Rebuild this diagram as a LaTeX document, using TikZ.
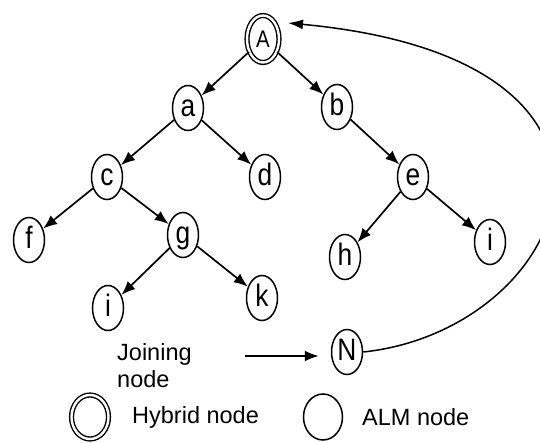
\documentclass[tikz,border=0pt]{standalone}
\usepackage{fontspec}
\setmainfont{Liberation Sans}
\usetikzlibrary{shapes.geometric,arrows.meta}
% narrow node letter
\newcommand\nletter[1]{\scalebox{0.85}[1]{#1}}
\begin{document}
\begin{tikzpicture}[x=1pt,y=-1pt,
  alm/.style={ellipse,draw,line width=1.5pt,inner sep=0pt,
    minimum width=31pt,minimum height=45pt,
    font=\fontsize{31}{31}\selectfont,text height=22pt,text depth=5pt},
  hybrid/.style={ellipse,draw,line width=1.4pt,double,double distance=2.4pt,
    inner sep=0pt,minimum width=32pt,minimum height=47pt,
    font=\fontsize{24}{24}\selectfont},
  tree/.style={line width=1.7pt,-{Latex[length=14pt,width=11pt]}},
  lbl/.style={font=\fontsize{23.5}{27}\selectfont,inner sep=0pt}]
\useasboundingbox (0,0) rectangle (540,443);

% tree nodes
\node[hybrid] (A) at (263,39) {\nletter{A}};
\node[alm] (a) at (188,108) {\nletter{a}};
\node[alm] (b) at (337,107) {\nletter{b}};
\node[alm] (c) at (107,177) {\nletter{c}};
\node[alm] (d) at (265,177) {\nletter{d}};
\node[alm] (e) at (413,177) {\nletter{e}};
\node[alm] (f) at (29,240) {\nletter{f}};
\node[alm] (g) at (183,235) {\nletter{g}};
\node[alm] (h) at (345,257) {\nletter{h}};
\node[alm] (i) at (490,242) {\nletter{i}};
\node[alm] (j) at (108,308) {\nletter{i}};
\node[alm] (k) at (262,298) {\nletter{k}};
\node[alm] (N) at (347,352) {\nletter{N}};

% parent -> child links
\draw[tree] (A) -- (a);
\draw[tree] (A) -- (b);
\draw[tree] (a) -- (c);
\draw[tree] (a) -- (d);
\draw[tree] (b) -- (e);
\draw[tree] (c) -- (f);
\draw[tree] (c) -- (g);
\draw[tree] (e) -- (h);
\draw[tree] (e) -- (i);
\draw[tree] (g) -- (j);
\draw[tree] (g) -- (k);

% joining node contacts the hybrid root
\coordinate (Atip) at (288,23);
\draw[line width=1.5pt,-{Latex[length=15pt,width=10pt]}]
  (N.east) .. controls (570,330) and (685,60) .. (Atip);

% label for the joining node
\node[lbl,anchor=west,align=left] (jn) at (117,366) {Joining\\node};
\coordinate (jstart) at (245,356);
\draw[tree,shorten >=12pt] (jstart) -- (jstart -| N.west);

% legend
\node[hybrid,minimum width=37pt,minimum height=44pt] (lh) at (90,417) {};
\node[lbl,anchor=west] (lht) at (132,417) {Hybrid node};
\node[alm,minimum width=39pt,minimum height=46pt] (la) at (323,417) {};
\node[lbl,anchor=west] (lat) at (362,417) {ALM node};
\end{tikzpicture}
\end{document}
